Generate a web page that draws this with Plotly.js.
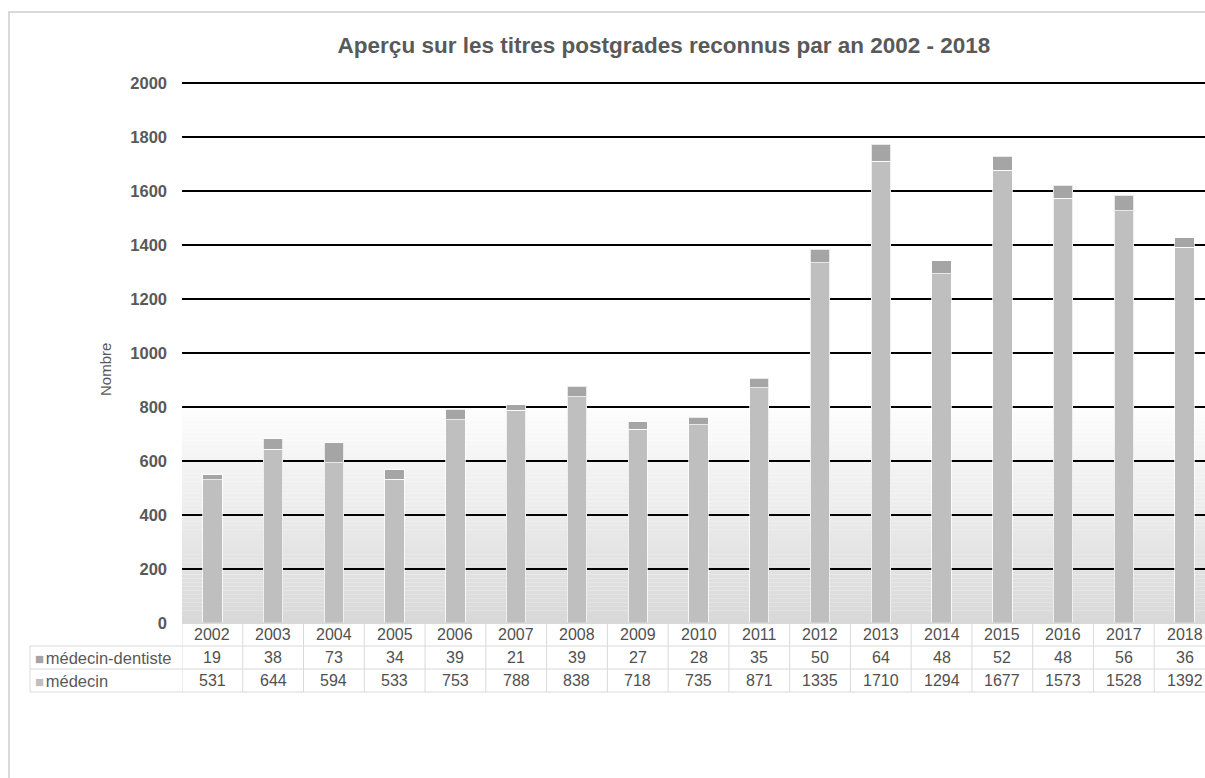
<!DOCTYPE html>
<html>
<head>
<meta charset="utf-8">
<script src="https://cdn.plot.ly/plotly-3.0.1.min.js"></script>
<style>
  html, body { margin: 0; padding: 0; background: #ffffff; overflow: hidden; width: 1205px; height: 778px; }
  #frame { position: absolute; left: 8px; top: 11px; width: 2000px; height: 2000px;
           border-left: 2px solid #d9d9d9; border-top: 2px solid #d9d9d9; z-index: 0; }
  #chart { position: absolute; left: 0; top: 0; z-index: 1; }
</style>
</head>
<body>
<div id="frame"></div>
<div id="chart"></div>
<script>
const years = ['2002','2003','2004','2005','2006','2007','2008','2009','2010','2011','2012','2013','2014','2015','2016','2017','2018'];
const medecin = [531,644,594,533,753,788,838,718,735,871,1335,1710,1294,1677,1573,1528,1392];
const dentiste = [19,38,73,34,39,21,39,27,28,35,50,64,48,52,48,56,36];
const seriesNames = ['médecin-dentiste','médecin'];

const colMed = '#bfbfbf';
const colDent = '#a5a5a5';
const txt = '#595959';
const font = 'Liberation Sans, Arial, sans-serif';

const plotH = 541; // pixel height of plot area (for table row offsets)
const traces = [
  { type: 'bar', x: years, y: medecin, name: seriesNames[1],
    marker: { color: colMed, line: { color: 'rgba(255,255,255,0.75)', width: 1 } }, hoverinfo: 'x+y+name' },
  { type: 'bar', x: years, y: dentiste, name: seriesNames[0],
    marker: { color: colDent, line: { color: 'rgba(255,255,255,0.75)', width: 1 } }, hoverinfo: 'x+y+name' }
];

const shapes = [];
// gradient background (white at top -> light grey at bottom)
const gradTop = 840, nBands = 56;
for (let i = 0; i < nBands; i++) {
  const y0 = gradTop * i / nBands, y1 = gradTop * (i + 1) / nBands;
  const t = (i + 0.5) / nBands; // 0 bottom -> 1 top
  const v = Math.round(216 + (255 - 216) * t);
  shapes.push({ type: 'rect', layer: 'below', xref: 'paper', yref: 'y', x0: 0, x1: 1, y0: y0, y1: y1,
    fillcolor: `rgb(${v},${v},${v})`, line: { width: 0 } });
}
// data table borders
const rowH = 23;
const rowY = [0, -rowH / plotH, -2 * rowH / plotH, -3 * rowH / plotH];
const border = { color: '#d9d9d9', width: 1 };
for (let r = 0; r < rowY.length; r++) {
  shapes.push({ type: 'line', xref: 'x', yref: 'paper', x0: -0.5, x1: years.length - 0.5, y0: rowY[r], y1: rowY[r], line: border });
}
for (let i = 0; i <= years.length; i++) {
  shapes.push({ type: 'line', xref: 'x', yref: 'paper', x0: i - 0.5, x1: i - 0.5, y0: 0, y1: rowY[3], line: border });
}
const legLeft = (30 - 182) / 1033;
for (let r = 1; r < rowY.length; r++) {
  shapes.push({ type: 'line', xref: 'paper', yref: 'paper', x0: legLeft, x1: 0, y0: rowY[r], y1: rowY[r], line: border });
}
shapes.push({ type: 'line', xref: 'paper', yref: 'paper', x0: legLeft, x1: legLeft, y0: rowY[1], y1: rowY[3], line: border });

const annotations = [];
const tf = { family: font, size: 16, color: '#505050' };
years.forEach((yr, i) => {
  annotations.push({ xref: 'x', yref: 'paper', x: i, y: 0, yshift: -rowH * 0.5, text: yr, showarrow: false, font: tf, xanchor: 'center', yanchor: 'middle' });
  annotations.push({ xref: 'x', yref: 'paper', x: i, y: 0, yshift: -rowH * 1.5, text: String(dentiste[i]), showarrow: false, font: tf, xanchor: 'center', yanchor: 'middle' });
  annotations.push({ xref: 'x', yref: 'paper', x: i, y: 0, yshift: -rowH * 2.5, text: String(medecin[i]), showarrow: false, font: tf, xanchor: 'center', yanchor: 'middle' });
});
annotations.push({ xref: 'paper', yref: 'paper', x: legLeft, xshift: 3, y: 0, yshift: -rowH * 1.5, xanchor: 'left', yanchor: 'middle', showarrow: false,
  text: `<span style="color:${colDent};font-size:15px">■</span><span style="font-size:6px">&nbsp;</span>${seriesNames[0]}`, font: { family: font, size: 16.5, color: txt } });
annotations.push({ xref: 'paper', yref: 'paper', x: legLeft, xshift: 3, y: 0, yshift: -rowH * 2.5, xanchor: 'left', yanchor: 'middle', showarrow: false,
  text: `<span style="color:${colMed};font-size:15px">■</span><span style="font-size:6px">&nbsp;</span>${seriesNames[1]}`, font: { family: font, size: 16.5, color: txt } });
annotations.push({ xref: 'paper', yref: 'paper', x: (105 - 182) / 1033, y: (623 - 370) / plotH, textangle: -90, showarrow: false,
  xanchor: 'center', yanchor: 'middle', text: 'Nombre', font: { family: font, size: 15, color: txt } });

const layout = {
  width: 1230, height: 778,
  margin: { l: 182, r: 15, t: 82, b: 155, pad: 0 },
  paper_bgcolor: 'rgba(0,0,0,0)', plot_bgcolor: 'rgba(0,0,0,0)',
  barmode: 'stack', bargap: 0.68,
  showlegend: false,
  title: { text: '<b>Aperçu sur les titres postgrades reconnus par an 2002 - 2018</b>',
    font: { family: font, size: 22.5, color: txt }, x: 664 / 1230, xanchor: 'center', xref: 'container',
    y: 1 - 45 / 778, yanchor: 'middle', yref: 'container' },
  xaxis: { type: 'category', showticklabels: false, showgrid: false, zeroline: false, showline: false, ticks: '',
    range: [-0.5, years.length - 0.5], fixedrange: true },
  yaxis: { range: [0, 2004], tickvals: [0,200,400,600,800,1000,1200,1400,1600,1800,2000],
    showgrid: true, gridcolor: '#000000', gridwidth: 1.6,
    zeroline: true, zerolinecolor: '#d9d9d9', zerolinewidth: 1, showline: false, ticks: '',
    ticklabelstandoff: 14,
    tickfont: { family: font, size: 16.5, color: txt, weight: 'bold' }, fixedrange: true },
  shapes: shapes,
  annotations: annotations,
  font: { family: font }
};

Plotly.newPlot('chart', traces, layout, { displayModeBar: false });
</script>
</body>
</html>
